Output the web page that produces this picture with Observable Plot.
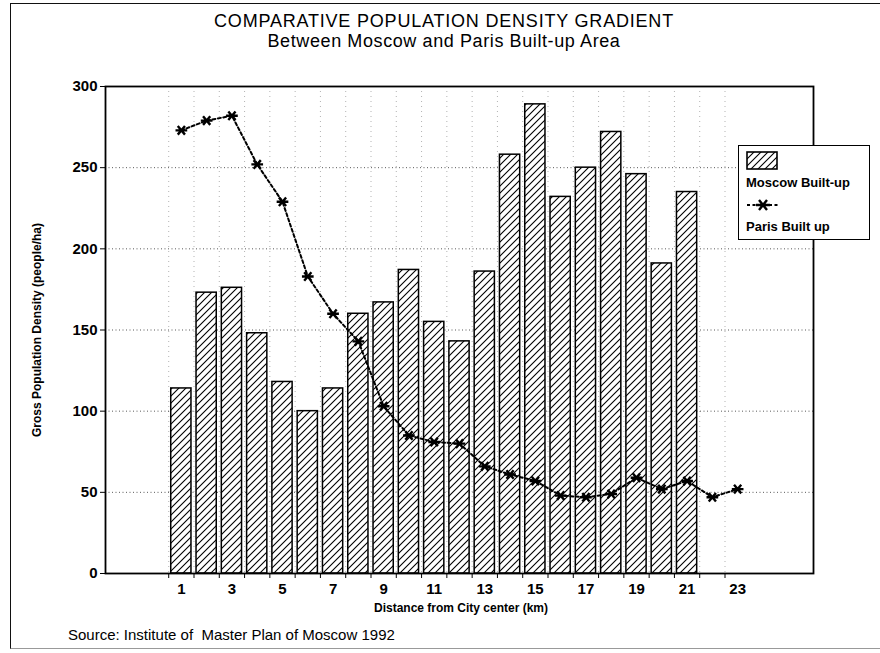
<!DOCTYPE html>
<html>
<head>
<meta charset="utf-8">
<script src="https://cdn.jsdelivr.net/npm/d3@7"></script>
<script src="https://cdn.jsdelivr.net/npm/@observablehq/plot@0.6"></script>
<style>
  body { margin: 0; background: #fff; }
  #page { position: relative; width: 880px; height: 653px; overflow: hidden;
          font-family: "Liberation Sans", Arial, Helvetica, sans-serif; color: #000; background: #fff; }
  #border { position: absolute; left: 10px; top: 3px; width: 900px; height: 644px;
            border-left: 1.5px solid #111; border-top: 1.5px solid #111; border-bottom: 1px solid #999; }
  #chart { position: absolute; left: 0; top: 0; }
  .title { position: absolute; left: 0; width: 888px; text-align: center; white-space: nowrap; }
  #t1 { top: 11px; font-size: 18px; letter-spacing: 0.8px; }
  #t2 { top: 31px; font-size: 18px; letter-spacing: 0.6px; }
  #ylab { position: absolute; left: 37px; top: 330px; transform: translate(-50%, -50%) rotate(-90deg);
          font-size: 12px; font-weight: bold; white-space: nowrap; }
  #xlab { position: absolute; left: 461px; top: 601px; transform: translateX(-50%);
          font-size: 12px; font-weight: bold; white-space: nowrap; }
  #source { position: absolute; left: 68px; top: 626px; font-size: 15px; white-space: nowrap; }
  #legend { position: absolute; left: 738px; top: 145px; width: 132px; height: 95px;
            border: 1.5px solid #000; background: #fff; box-sizing: border-box; }
  #legend .lt { position: absolute; left: 7px; font-size: 13px; font-weight: bold; white-space: nowrap; }
</style>
</head>
<body>
<div id="page">
  <div id="border"></div>
  <div id="chart"></div>
  <div class="title" id="t1">COMPARATIVE POPULATION DENSITY GRADIENT</div>
  <div class="title" id="t2">Between Moscow and Paris Built-up Area</div>
  <div id="ylab">Gross Population Density (people/ha)</div>
  <div id="xlab">Distance from City center (km)</div>
  <div id="source">Source: Institute of &nbsp;Master Plan of Moscow 1992</div>
  <div id="legend">
    <svg width="132" height="95" style="position:absolute;left:0;top:0">
      <rect x="8" y="6" width="30" height="17" fill="url(#hatch)" stroke="#000" stroke-width="1.6"></rect>
      <line x1="8" y1="59" x2="40" y2="59" stroke="#000" stroke-width="2" stroke-dasharray="3,2.5"></line>
      <path d="M17,59 L31,59 M20,54 L28,64 M20,64 L28,54" stroke="#000" stroke-width="2.4" fill="none"></path>
    </svg>
    <div class="lt" style="top:29px">Moscow Built-up</div>
    <div class="lt" style="top:73px">Paris Built up</div>
  </div>
</div>
<script>
// ---- data ----
const moscowKm = [1, 2, 3, 4, 5, 6, 7, 8, 9, 10, 11, 12, 13, 14, 15, 16, 17, 18, 19, 20, 21];
const moscowDensity = [114, 173, 176, 148, 118, 100, 114, 160, 167, 187, 155, 143, 186, 258, 289, 232, 250, 272, 246, 191, 235];
const parisKm = [1, 2, 3, 4, 5, 6, 7, 8, 9, 10, 11, 12, 13, 14, 15, 16, 17, 18, 19, 20, 21, 22, 23];
const parisDensity = [273, 279, 282, 252, 229, 183, 160, 143, 103, 85, 81, 80, 66, 61, 57, 48, 47, 49, 59, 52, 57, 47, 52];
const yTicks = [0, 50, 100, 150, 200, 250, 300];
const yGrid = [50, 100, 150, 200, 250];
const xLabels = [1, 3, 5, 7, 9, 11, 13, 15, 17, 19, 21, 23];
const xTickMarks = [0.5, 1.5, 2.5, 3.5, 4.5, 5.5, 6.5, 7.5, 8.5, 9.5, 10.5, 11.5, 12.5, 13.5, 14.5, 15.5, 16.5, 17.5, 18.5, 19.5, 20.5, 21.5, 22.5];

const moscow = moscowKm.map((k, i) => ({km: k, density: moscowDensity[i]}));
const paris = parisKm.map((k, i) => ({km: k, density: parisDensity[i]}));

const halfBar = 0.4;

// asterisk-like marker: horizontal bar + two diagonals
const starSymbol = {
  draw(context, size) {
    const r = Math.sqrt(size / Math.PI);
    context.moveTo(-r * 1.3, 0); context.lineTo(r * 1.3, 0);
    context.moveTo(-r * 0.8, -r * 0.95); context.lineTo(r * 0.8, r * 0.95);
    context.moveTo(-r * 0.8, r * 0.95); context.lineTo(r * 0.8, -r * 0.95);
  }
};

const svg = Plot.plot({
  width: 880,
  height: 653,
  marginTop: 86,
  marginBottom: 80,
  marginLeft: 105,
  marginRight: 67,
  style: {fontFamily: "Liberation Sans, Arial, sans-serif", fontSize: "14px", fontWeight: "bold", background: "transparent", overflow: "visible"},
  x: {domain: [-2, 26]},
  y: {domain: [0, 300]},
  marks: [
    Plot.ruleY(yGrid, {stroke: "#222", strokeOpacity: 0.75, strokeDasharray: "1,2.5"}),
    Plot.ruleX(xTickMarks, {stroke: "#222", strokeOpacity: 0.35, strokeDasharray: "1,4"}),
    Plot.rectY(moscow, {x1: d => d.km - halfBar, x2: d => d.km + halfBar, y1: 0, y2: "density",
      fill: "url(#hatch)", stroke: "#000", strokeWidth: 1.5}),
    Plot.line(paris, {x: "km", y: "density", stroke: "#000", strokeWidth: 2, strokeDasharray: "3,2.5"}),
    Plot.dot(paris, {x: "km", y: "density", symbol: starSymbol, r: 4.5, fill: "none", stroke: "#000", strokeWidth: 2.4}),
    Plot.frame({stroke: "#000", strokeWidth: 1.8}),
    Plot.axisY(yTicks, {tickSize: 5, tickPadding: 3, label: null, fontSize: 15}),
    Plot.axisX(xTickMarks, {tickSize: 5, tickFormat: () => "", label: null}),
    Plot.axisX(xLabels, {tickSize: 0, tickPadding: 10, label: null, fontSize: 15})
  ]
});

// hatch pattern definition
const defs = d3.select(svg).insert("defs", ":first-child");
const pat = defs.append("pattern").attr("id", "hatch").attr("patternUnits", "userSpaceOnUse")
  .attr("width", 7).attr("height", 7);
pat.append("rect").attr("width", 7).attr("height", 7).attr("fill", "#fff");
pat.append("path").attr("d", "M-1,1 L1,-1 M0,7 L7,0 M6,8 L8,6").attr("stroke", "#000").attr("stroke-width", 1.1);

document.getElementById("chart").appendChild(svg);
</script>
</body>
</html>
